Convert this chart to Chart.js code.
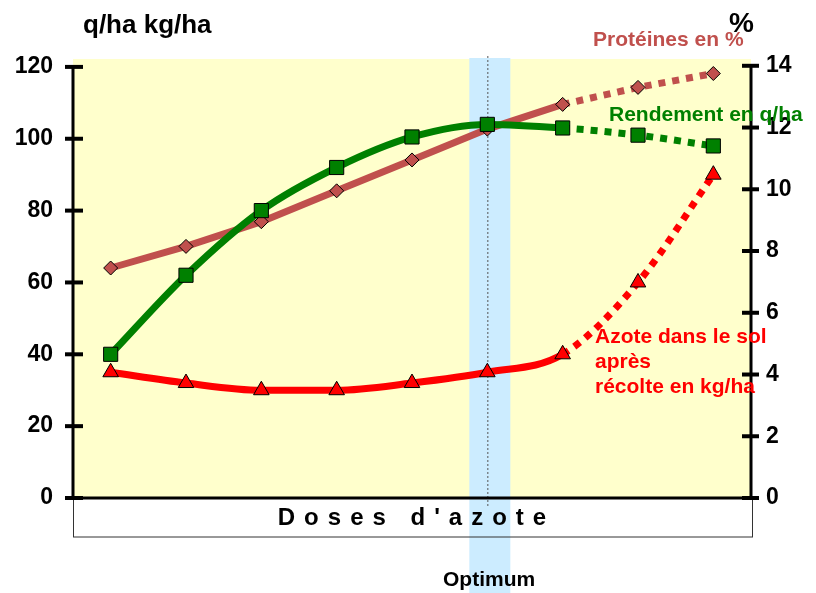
<!DOCTYPE html>
<html>
<head>
<meta charset="utf-8">
<script src="https://cdn.jsdelivr.net/npm/chart.js@4"></script>
<style>
  body { margin: 0; background: #fff; }
  #wrap { width: 816px; height: 593px; }
</style>
</head>
<body>
<div id="wrap"><canvas id="azoteChart" width="816" height="593"></canvas></div>
<script>
// doses d'azote (9 levels, no labels shown)
const doses = ['1', '2', '3', '4', '5', '6', '7', '8', '9'];

// Rendement en q/ha (left axis)
const rendement = [40, 62, 80, 92, 100.5, 104, 103, 101, 98];
// Azote dans le sol après récolte en kg/ha (left axis)
const azoteSol = [35, 32, 30, 30, 32, 35, 40, 60, 90];
// Protéines en % (right axis)
const proteines = [7.45, 8.15, 8.95, 9.95, 10.95, 11.95, 12.75, 13.3, 13.75];

const leftTicks = [0, 20, 40, 60, 80, 100, 120];
const rightTicks = [0, 2, 4, 6, 8, 10, 12, 14];

const optimumIndex = 5;   // dose optimale
const lastMeasured = 6;   // after this point the lines are dotted

const FONT = '"Liberation Sans", Arial, sans-serif';

const ctx = document.getElementById('azoteChart').getContext('2d');

const dotted = { borderDash: ctx => ctx.p0DataIndex >= lastMeasured ? [7, 7] : undefined };

// yellow plot area, blue optimum band, axes, ticks and texts
const decorations = {
  id: 'decorations',
  beforeDatasetsDraw(chart) {
    const { ctx, chartArea: a, scales } = chart;
    ctx.save();
    ctx.fillStyle = '#FFFFCC';
    ctx.fillRect(a.left, a.top, a.right - a.left, a.bottom - a.top);

    const xo = scales.x.getPixelForValue(optimumIndex);
    ctx.fillStyle = '#CCECFF';
    ctx.fillRect(xo - 18, a.top - 1, 41, chart.height - a.top + 1);

    ctx.strokeStyle = '#555';
    ctx.lineWidth = 1;
    ctx.setLineDash([2, 2]);
    ctx.beginPath();
    ctx.moveTo(xo + 0.5, a.top - 3);
    ctx.lineTo(xo + 0.5, a.bottom + 8);
    ctx.stroke();
    ctx.setLineDash([]);

    // box under the axis
    ctx.strokeStyle = '#333';
    ctx.lineWidth = 1;
    ctx.strokeRect(a.left + 0.5, a.bottom, a.right - a.left + 1, 39);

    ctx.fillStyle = '#000';
    ctx.font = 'bold 24px ' + FONT;
    ctx.textAlign = 'left';
    ctx.textBaseline = 'middle';
    ctx.letterSpacing = '9px';
    const label = "Doses d'azote";
    const w = ctx.measureText(label).width - 9;
    ctx.fillText(label, (a.left + a.right) / 2 - w / 2, a.bottom + 20);
    ctx.letterSpacing = '0px';
    ctx.restore();
  },
  afterDatasetsDraw(chart) {
    const { ctx, chartArea: a, scales } = chart;
    ctx.save();
    ctx.strokeStyle = '#000';
    ctx.lineWidth = 3;
    ctx.beginPath();
    ctx.moveTo(a.left, scales.yL.getPixelForValue(120) - 1);
    ctx.lineTo(a.left, a.bottom);
    ctx.lineTo(a.right, a.bottom);
    ctx.moveTo(a.right, scales.yR.getPixelForValue(14) - 1);
    ctx.lineTo(a.right, a.bottom);
    ctx.stroke();

    ctx.lineWidth = 4;
    leftTicks.forEach(v => {
      const y = scales.yL.getPixelForValue(v);
      ctx.beginPath(); ctx.moveTo(a.left - 8, y); ctx.lineTo(a.left + 10, y); ctx.stroke();
    });
    rightTicks.forEach(v => {
      const y = scales.yR.getPixelForValue(v);
      ctx.beginPath(); ctx.moveTo(a.right - 9, y); ctx.lineTo(a.right + 8, y); ctx.stroke();
    });

    ctx.textBaseline = 'middle';
    ctx.textAlign = 'left';
    ctx.fillStyle = '#000';
    ctx.font = 'bold 26px ' + FONT;
    ctx.fillText('q/ha kg/ha', 83, 26);
    ctx.font = 'bold 28px ' + FONT;
    ctx.fillText('%', 729, 24);

    ctx.font = 'bold 21px ' + FONT;
    ctx.fillStyle = '#C0504D';
    ctx.fillText('Protéines en %', 593, 40);
    ctx.fillStyle = '#008000';
    ctx.fillText('Rendement en q/ha', 609, 115);
    ctx.fillStyle = '#FF0000';
    ctx.fillText('Azote dans le sol', 595, 337);
    ctx.fillText('après', 595, 362);
    ctx.fillText('récolte en kg/ha', 595, 387);

    ctx.fillStyle = '#000';
    ctx.font = 'bold 21px ' + FONT;
    ctx.fillText('Optimum', 443, 580);
    ctx.restore();
  }
};

const tickFont = { family: '"Liberation Sans Narrow", "Arial Narrow", "Liberation Sans", sans-serif', size: 23, weight: 'bold' };

new Chart(ctx, {
  type: 'line',
  data: {
    labels: doses,
    datasets: [{
      label: 'Rendement en q/ha',
      data: rendement,
      yAxisID: 'yL',
      borderColor: '#008000',
      borderWidth: 7,
      tension: 0.4,
      cubicInterpolationMode: 'monotone',
      segment: dotted,
      pointStyle: 'rect',
      pointRadius: 10,
      pointBackgroundColor: '#008000',
      pointBorderColor: '#000',
      pointBorderWidth: 1
    }, {
      label: 'Azote dans le sol après récolte en kg/ha',
      data: azoteSol,
      yAxisID: 'yL',
      borderColor: '#FF0000',
      borderWidth: 7,
      tension: 0.4,
      cubicInterpolationMode: 'monotone',
      segment: dotted,
      pointStyle: 'triangle',
      pointRadius: 9,
      pointBackgroundColor: '#FF0000',
      pointBorderColor: '#000',
      pointBorderWidth: 1
    }, {
      label: 'Protéines en %',
      data: proteines,
      yAxisID: 'yR',
      borderColor: '#C0504D',
      borderWidth: 7,
      tension: 0,
      segment: dotted,
      pointStyle: 'rectRot',
      pointRadius: 7,
      pointBackgroundColor: '#C0504D',
      pointBorderColor: '#000',
      pointBorderWidth: 1
    }]
  },
  options: {
    responsive: false,
    animation: false,
    plugins: {
      legend: { display: false },
      tooltip: { enabled: false }
    },
    layout: {
      padding: { top: 59, bottom: 95, left: 0, right: 0 }
    },
    scales: {
      x: {
        type: 'category',
        display: false,
        offset: true
      },
      yL: {
        position: 'left',
        min: 0,
        max: 122.2,
        afterFit: s => { s.width = 73; },
        afterBuildTicks: s => { s.ticks = leftTicks.map(v => ({ value: v })); },
        grid: { display: false },
        border: { display: false },
        ticks: { color: '#000', font: tickFont, padding: 12 }
      },
      yR: {
        position: 'right',
        min: 0,
        max: 14.22,
        afterFit: s => { s.width = 65; },
        afterBuildTicks: s => { s.ticks = rightTicks.map(v => ({ value: v })); },
        grid: { display: false },
        border: { display: false },
        ticks: { color: '#000', font: tickFont, padding: 7 }
      }
    }
  },
  plugins: [decorations]
});
</script>
</body>
</html>
